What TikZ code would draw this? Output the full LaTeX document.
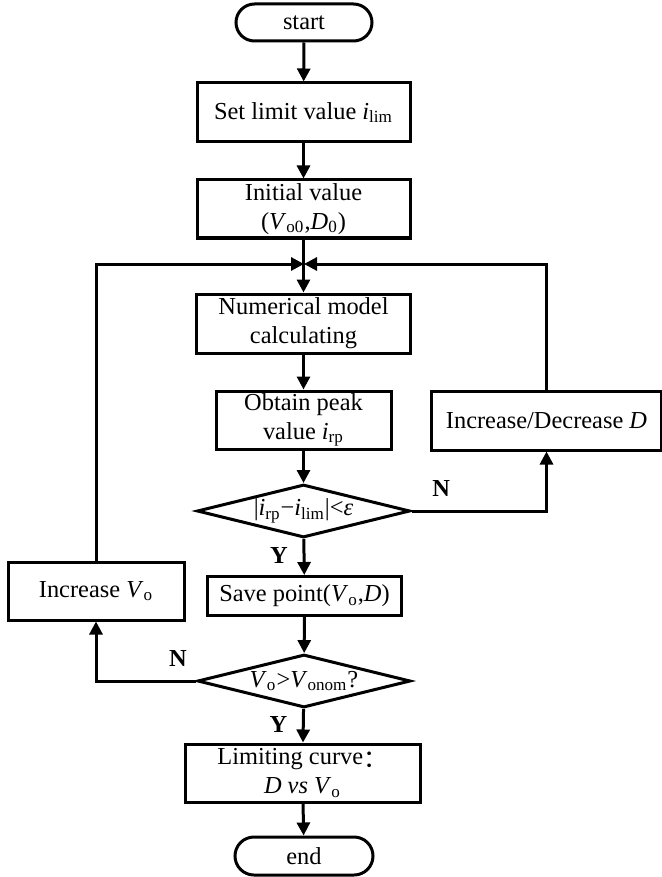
\documentclass[tikz,border=0pt]{standalone}
\usepackage{fontspec}
\setmainfont{Liberation Serif}
\newfontfamily\cjk{Noto Sans CJK SC}
\usetikzlibrary{arrows.meta, shapes.geometric, shapes.misc, positioning}
\tikzset{
  flow/.style={draw, line width=1.5pt, align=center, inner sep=0pt,
    font=\fontsize{12.2}{14.5}\selectfont},
  proc/.style={flow, rectangle},
  term/.style={flow, rounded rectangle, minimum width=68pt, minimum height=18.5pt},
  test/.style={flow, diamond, aspect=4, minimum width=106.5pt, minimum height=26.5pt},
  conn/.style={line width=1.5pt, -{Triangle[length=6.5pt,width=6.5pt]}},
  yn/.style={font=\fontsize{12.2}{14.5}\selectfont\bfseries}
}
\begin{document}
\begin{tikzpicture}[x=0.5pt, y=-0.5pt]
    \useasboundingbox (0,0) rectangle (662,877);
    % main column
    \node[term] (start) at (304,22.5) {start};
    \node[proc, minimum width=106.5pt, minimum height=29.5pt] (setlim) at (303.5,112.5)
        {Set limit value \textit{i}\textsubscript{lim}};
    \node[proc, minimum width=106.5pt, minimum height=29pt] (init) at (303.5,209)
        {Initial value\\(\textit{V}\textsubscript{o0},\textit{D}\textsubscript{0})};
    \coordinate (jn) at (304,264);
    \node[proc, minimum width=107pt, minimum height=29.5pt] (num) at (303.5,323.5)
        {Numerical model\\calculating};
    \node[proc, minimum width=87.5pt, minimum height=29pt] (peak) at (303.5,420)
        {Obtain peak\\value \textit{i}\textsubscript{rp}};
    \node[test] (dec1) at (303.5,511)
        {|\textit{i}\textsubscript{rp}−\textit{i}\textsubscript{lim}|<\textit{ε}};
    \node[proc, minimum width=97pt, minimum height=19.5pt] (save) at (304.5,596)
        {Save point(\textit{V}\textsubscript{o},\textit{D})};
    \node[test] (dec2) at (304,681)
        {\textit{V}\textsubscript{o}>\textit{V}\textsubscript{onom}?};
    \node[proc, minimum width=117.5pt, minimum height=29pt] (limit) at (302.5,773)
        {Limiting curve\raisebox{-1.2pt}{\cjk ：}\\\textit{D vs V}\textsubscript{o}};
    \node[term, minimum width=69pt, minimum height=19pt] (end) at (304,856) {end};
    % side boxes
    \node[proc, minimum width=115pt, minimum height=29.5pt] (incd) at (546.5,420.5)
        {Increase/Decrease \textit{D}};
    \node[proc, minimum width=88pt, minimum height=29pt] (incv) at (96,591)
        {Increase \textit{V}\textsubscript{o}};

    \draw[conn] (start) -- (setlim);
    \draw[conn] (setlim) -- (init);
    \draw[conn] (init) -- (num);
    \draw[conn] (num) -- (peak);
    \draw[conn] (peak) -- (dec1);
    \draw[conn] (dec1) -- node[yn, left=4pt, pos=0.45] {Y} (save);
    \draw[conn] (save) -- (dec2);
    \draw[conn] (dec2) -- node[yn, left=4pt, pos=0.45] {Y} (limit);
    \draw[conn] (limit) -- (end);
    % loops
    \draw[conn] (dec1.east) -| node[yn, above=3pt, pos=0.11] {N} (incd.south);
    \draw[conn] (incd.north) |- (jn);
    \draw[conn] (dec2.west) -| node[yn, above=3pt, pos=0.09] {N} (incv.south);
    \draw[conn] (incv.north) |- (jn);
\end{tikzpicture}
\end{document}
